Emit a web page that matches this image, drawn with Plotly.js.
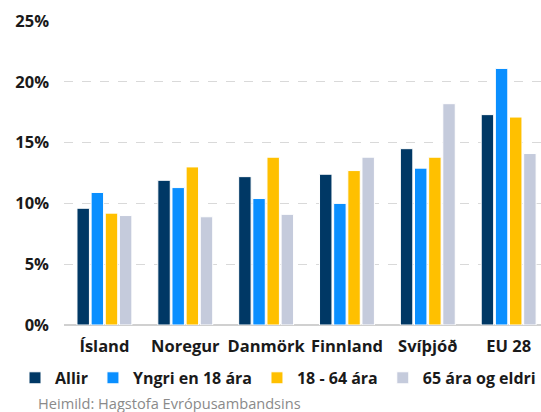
<!DOCTYPE html>
<html>
<head>
<meta charset="utf-8">
<script src="https://cdn.plot.ly/plotly-3.0.1.min.js"></script>
<style>
  body { margin: 0; background: #fff; }
  #myPlot { width: 541px; height: 412px; }
</style>
</head>
<body>
<div id="myPlot"></div>
<script>
var lond = ["Ísland", "Noregur", "Danmörk", "Finnland", "Svíþjóð", "EU 28"];

var allir = [9.6, 11.9, 12.2, 12.4, 14.5, 17.3];
var yngri = [10.9, 11.3, 10.4, 10.0, 12.9, 21.1];
var midaldra = [9.2, 13.0, 13.8, 12.7, 13.8, 17.1];
var eldri = [9.0, 8.9, 9.1, 13.8, 18.2, 14.1];

var heiti = ["Allir", "Yngri en 18 ára", "18 - 64 ára", "65 ára og eldri"];
var litir = ["#003865", "#0a8fff", "#ffc000", "#c5cbdc"];
var gildi = [allir, yngri, midaldra, eldri];

var data = [];
for (var i = 0; i < gildi.length; i++) {
    data.push({
        type: "bar",
        name: heiti[i],
        x: lond,
        y: gildi[i].map(function (v) { return v / 100; }),
        marker: { color: litir[i], line: { color: "#ffffff", width: 1 } },
        hoverinfo: "skip"
    });
}

var leturgerd = "Open Sans, Segoe UI, sans-serif";

var layout = {
    width: 541,
    height: 412,
    margin: { l: 64, r: 0, t: 21, b: 87 },
    paper_bgcolor: "#ffffff",
    plot_bgcolor: "#ffffff",
    barmode: "group",
    bargap: 0.3,
    bargroupgap: 0.12,
    font: { family: leturgerd, color: "#1a1a1a" },
    xaxis: {
        range: [-0.5, 5.4],
        showgrid: false,
        showline: false,
        ticks: "",
        ticklabelstandoff: 9,
        tickfont: { size: 16.5, weight: "bold", color: "#1a1a1a" }
    },
    yaxis: {
        range: [0, 0.25],
        dtick: 0.05,
        tickformat: ".0%",
        gridcolor: "#d9d9d9",
        griddash: "dash",
        zeroline: true,
        zerolinecolor: "#d0d0d0",
        zerolinewidth: 1.5,
        ticklabelstandoff: 14,
        tickfont: { size: 16.5, weight: "bold", color: "#1a1a1a" }
    },
    showlegend: true,
    legend: {
        orientation: "h",
        x: -0.09,
        xanchor: "left",
        y: -0.174,
        yanchor: "middle",
        font: { size: 16, weight: "bold", color: "#1a1a1a" },
        itemwidth: 30,
        tracegroupgap: 0
    },
    annotations: [{
        text: "Heimild: Hagstofa Evrópusambandsins",
        xref: "paper",
        yref: "paper",
        x: -0.059,
        y: -0.257,
        xanchor: "left",
        yanchor: "middle",
        showarrow: false,
        font: { size: 14.6, color: "#8a8a8a", family: leturgerd }
    }]
};

Plotly.newPlot("myPlot", data, layout, { displayModeBar: false, staticPlot: true });
</script>
</body>
</html>
